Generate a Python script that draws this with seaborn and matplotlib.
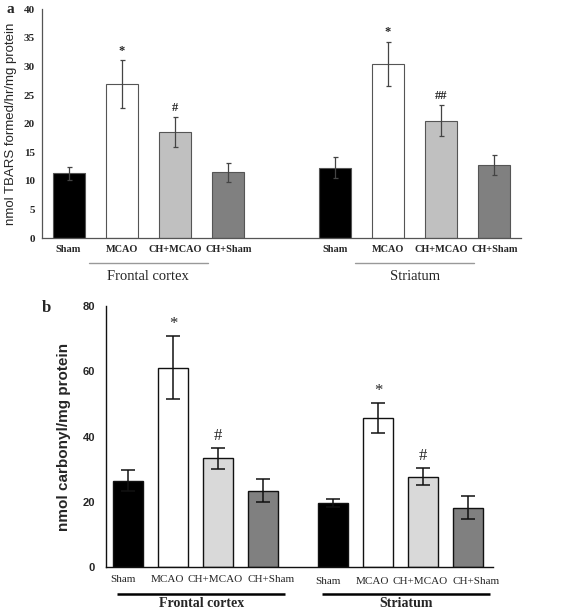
import numpy as np
import pandas as pd
import matplotlib
matplotlib.use("Agg")
import matplotlib.pyplot as plt
import matplotlib.transforms as mtransforms
import seaborn as sns

# ===================== DATA =====================
treatments = ["Sham", "MCAO", "CH+MCAO", "CH+Sham"]
regions = ["Frontal cortex", "Striatum"]

# panel a: TBARS
tbars_fc = [11.3, 26.9, 18.5, 11.5]
tbars_fc_err = [1.2, 4.2, 2.6, 1.7]
tbars_st = [12.3, 30.4, 20.5, 12.8]
tbars_st_err = [1.8, 3.9, 2.7, 1.8]
marks_a = ["", "*", "#", "", "", "*", "##", ""]

# panel b: protein carbonyl
carb_fc = [26.5, 61.1, 33.3, 23.4]
carb_fc_err = [3.3, 9.6, 3.2, 3.6]
carb_st = [19.7, 45.7, 27.7, 18.2]
carb_st_err = [1.2, 4.6, 2.7, 3.6]
marks_b = ["", "*", "#", "", "", "*", "#", ""]

colors_a = {"Sham": "#000000", "MCAO": "#ffffff", "CH+MCAO": "#c0c0c0", "CH+Sham": "#808080"}
colors_b = {"Sham": "#000000", "MCAO": "#ffffff", "CH+MCAO": "#d9d9d9", "CH+Sham": "#808080"}

serif = ["Liberation Serif", "DejaVu Serif"]
sans = ["Liberation Sans", "DejaVu Sans"]


def make_frame(fc, fc_err, st, st_err, gap):
    rows = []
    for i, t in enumerate(treatments):
        rows.append({"pos": i, "value": fc[i], "err": fc_err[i], "treatment": t, "region": regions[0]})
    for i, t in enumerate(treatments):
        rows.append({"pos": gap + i, "value": st[i], "err": st_err[i], "treatment": t, "region": regions[1]})
    return pd.DataFrame(rows)


sns.set_style("white")
fig = plt.figure(figsize=(5.67, 6.12), dpi=100)

# ===================== PANEL A =====================
df_a = make_frame(tbars_fc, tbars_fc_err, tbars_st, tbars_st_err, 5)
ax1 = fig.add_axes([0.074, 0.611, 0.845, 0.374])
sns.barplot(data=df_a, x="pos", y="value", hue="treatment", palette=colors_a,
            native_scale=True, dodge=False, errorbar=None, width=0.6,
            edgecolor="#555555", linewidth=0.8, legend=False, ax=ax1)
ax1.errorbar(df_a["pos"], df_a["value"], yerr=df_a["err"], fmt="none",
             ecolor="#444444", elinewidth=0.9, capsize=1.8, capthick=0.9)
for p, v, e, m in zip(df_a["pos"], df_a["value"], df_a["err"], marks_a):
    if m:
        ax1.text(p, v + e + 0.6, m, ha="center", va="bottom", fontsize=9,
                 fontweight="bold", family=serif)

ax1.set_xlim(-0.5, 8.5)
ax1.set_ylim(0, 40)
ax1.set_yticks(np.arange(0, 41, 5))
ax1.set_yticklabels([str(v) for v in range(0, 41, 5)], fontsize=8,
                    fontweight="bold", family=serif)
ax1.set_xticks(df_a["pos"])
ax1.set_xticklabels(df_a["treatment"], fontsize=7.4, fontweight="bold", family=serif)
ax1.set_xticks(np.arange(-0.5, 9, 1), minor=True)
ax1.tick_params(axis="x", which="major", length=0, pad=5)
ax1.tick_params(axis="x", which="minor", length=3.5, color="#666666", direction="out")
ax1.tick_params(axis="y", length=3, color="#444444", direction="out", pad=2)
ax1.set_xlabel("")
ax1.set_ylabel("nmol TBARS formed/hr/mg protein", fontsize=9.5, family=sans, labelpad=5)
for s in ["top", "right"]:
    ax1.spines[s].set_visible(False)
for s in ["left", "bottom"]:
    ax1.spines[s].set_color("#555555")
    ax1.spines[s].set_linewidth(0.9)

for start, name in zip([0, 5], regions):
    ax1.plot([start + 0.38, start + 2.62], [-0.109, -0.109], color="#999999", lw=1,
             transform=ax1.get_xaxis_transform(), clip_on=False)
    ax1.text(start + 1.5, -0.166, name, ha="center", va="center", fontsize=10.5,
             family=serif, transform=ax1.get_xaxis_transform())
fig.text(0.012, 0.985, "a", fontsize=11, fontweight="bold", family=serif, va="center")

# ===================== PANEL B =====================
df_b = make_frame(carb_fc, carb_fc_err, carb_st, carb_st_err, 4.56)
ax2 = fig.add_axes([0.187, 0.0735, 0.682, 0.4265])
sns.barplot(data=df_b, x="pos", y="value", hue="treatment", palette=colors_b,
            native_scale=True, dodge=False, errorbar=None, width=0.67,
            edgecolor="#111111", linewidth=1.0, legend=False, ax=ax2)
ax2.errorbar(df_b["pos"], df_b["value"], yerr=df_b["err"], fmt="none",
             ecolor="#111111", elinewidth=1.1, capsize=5, capthick=1.1)
for p, v, e, m in zip(df_b["pos"], df_b["value"], df_b["err"], marks_b):
    if m:
        ax2.text(p, v + e + 1.2, m, ha="center", va="bottom", fontsize=12,
                 family=serif)

ax2.set_xlim(-0.49, 8.11)
ax2.set_ylim(0, 80)
ax2.set_yticks([0, 20, 40, 60, 80])
ax2.set_yticklabels(["0", "20", "40", "60", "80"], fontsize=8,
                    fontweight="bold", family=sans)
ax2.set_xticks(df_b["pos"])
ax2.set_xticklabels(df_b["treatment"], fontsize=8, family=serif)
ax2.tick_params(axis="x", length=0, pad=6)
ax2.tick_params(axis="y", length=5, width=1, color="#111111", direction="out", pad=3)

# labels sit a little off-centre in the original so they don't collide
shift_px = [-5, -6, -3, 8, -5, -6, -3, 8]
drop_px = [0, 0, 0, 0, -2, -2, -2, -2]
for lab, dx, dy in zip(ax2.get_xticklabels(), shift_px, drop_px):
    off = mtransforms.ScaledTranslation(dx / 100, dy / 100, fig.dpi_scale_trans)
    lab.set_transform(lab.get_transform() + off)

ax2.set_xlabel("")
ax2.set_ylabel("nmol carbonyl/mg protein", fontsize=11, fontweight="bold",
               family=sans, labelpad=8)
for s in ["top", "right"]:
    ax2.spines[s].set_visible(False)
for s in ["left", "bottom"]:
    ax2.spines[s].set_color("#111111")
    ax2.spines[s].set_linewidth(1.0)

for start, name in zip([0, 4.56], regions):
    ax2.plot([start - 0.24, start + 3.5], [-0.105, -0.105], color="black", lw=1.8,
             transform=ax2.get_xaxis_transform(), clip_on=False, solid_capstyle="butt")
    ax2.text(start + 1.63, -0.116, name, ha="center", va="top", fontsize=10,
             fontweight="bold", family=serif, transform=ax2.get_xaxis_transform())
fig.text(0.074, 0.497, "b", fontsize=12, fontweight="bold", family=serif, va="center")

plt.savefig("out.png", dpi=100)
